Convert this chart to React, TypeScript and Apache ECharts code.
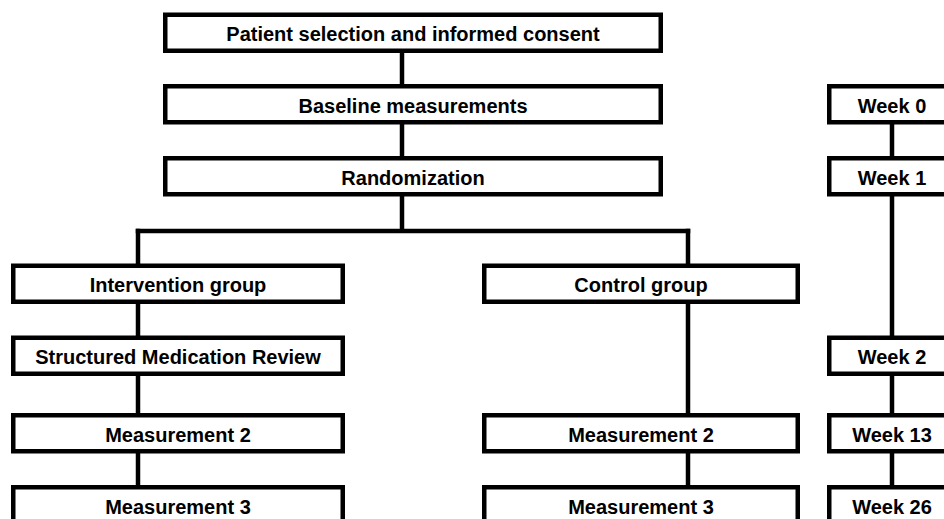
import React, { useEffect, useRef } from "react";
import * as echarts from "echarts";

// Labels
const topSteps = ["Patient selection and informed consent", "Baseline measurements", "Randomization"];
const interventionSteps = ["Intervention group", "Structured Medication Review", "Measurement 2", "Measurement 3"];
const controlSteps = ["Control group", "Measurement 2", "Measurement 3"];
const weekLabels = ["Week 0", "Week 1", "Week 2", "Week 13", "Week 26"];

// Which row each label sits in
const topRows = [0, 1, 2];
const interventionRows = [3, 4, 5, 6];
const controlRows = [3, 5, 6];
const weekRows = [1, 2, 4, 5, 6];

// Layout (outer pixel edges)
const ROW_TOP = [12.5, 84, 156, 263.5, 335.5, 413, 485];
const ROW_H = 40.5;
const LW = 4.5;
const COLS = {
  top: { x0: 163, x1: 663, link: 402 },
  left: { x0: 11, x1: 345, link: 138 },
  mid: { x0: 482, x1: 800, link: 688 },
  week: { x0: 827, x1: 957, link: 892 },
};
const BRANCH_Y = 231;

function box(col: { x0: number; x1: number }, row: number, label: string, out: any[]) {
  const y0 = ROW_TOP[row];
  out.push({
    type: "rect",
    shape: { x: col.x0 + LW / 2, y: y0 + LW / 2, width: col.x1 - col.x0 - LW, height: ROW_H - LW },
    style: { fill: "#ffffff", stroke: "#000000", lineWidth: LW },
    z: 10,
  });
  out.push({
    type: "text",
    x: (col.x0 + col.x1) / 2,
    y: y0 + ROW_H / 2 + 1.5,
    scaleX: 1.0,
    style: {
      text: label,
      align: "center",
      verticalAlign: "middle",
      fontSize: 20,
      fontWeight: "bold",
      fontFamily: '"Liberation Sans", Arial, sans-serif',
      fill: "#000000",
    },
    z: 20,
  });
}

function vline(x: number, y1: number, y2: number, out: any[]) {
  out.push({
    type: "line",
    shape: { x1: x, y1, x2: x, y2 },
    style: { stroke: "#000000", lineWidth: LW },
    z: 5,
  });
}

function chainLinks(x: number, rows: number[], out: any[]) {
  for (let i = 0; i < rows.length - 1; i++) {
    vline(x, ROW_TOP[rows[i]] + ROW_H / 2, ROW_TOP[rows[i + 1]] + ROW_H / 2, out);
  }
}

export default function App() {
  const ref = useRef<HTMLDivElement>(null);
  useEffect(() => {
    if (!ref.current) return;
    const chart = echarts.init(ref.current, undefined, { renderer: "svg" });
    const els: any[] = [];

    chainLinks(COLS.top.link, topRows, els);
    chainLinks(COLS.left.link, interventionRows, els);
    chainLinks(COLS.mid.link, controlRows, els);
    chainLinks(COLS.week.link, weekRows, els);

    // branch from randomization
    vline(COLS.top.link, ROW_TOP[2] + ROW_H / 2, BRANCH_Y, els);
    els.push({
      type: "line",
      shape: { x1: COLS.left.link - LW / 2, y1: BRANCH_Y, x2: COLS.mid.link + LW / 2, y2: BRANCH_Y },
      style: { stroke: "#000000", lineWidth: LW },
      z: 5,
    });
    vline(COLS.left.link, BRANCH_Y - LW / 2, ROW_TOP[3] + 5, els);
    vline(COLS.mid.link, BRANCH_Y - LW / 2, ROW_TOP[3] + 5, els);

    topSteps.forEach((t, i) => box(COLS.top, topRows[i], t, els));
    interventionSteps.forEach((t, i) => box(COLS.left, interventionRows[i], t, els));
    controlSteps.forEach((t, i) => box(COLS.mid, controlRows[i], t, els));
    weekLabels.forEach((t, i) => box(COLS.week, weekRows[i], t, els));

    chart.setOption({
      animation: false,
      backgroundColor: "#ffffff",
      graphic: { elements: els },
    });
    return () => chart.dispose();
  }, []);
  return (
    <div
      ref={ref}
      style={{ position: "absolute", left: 0, top: 0, width: 944, height: 519, background: "#fff" }}
    />
  );
}
